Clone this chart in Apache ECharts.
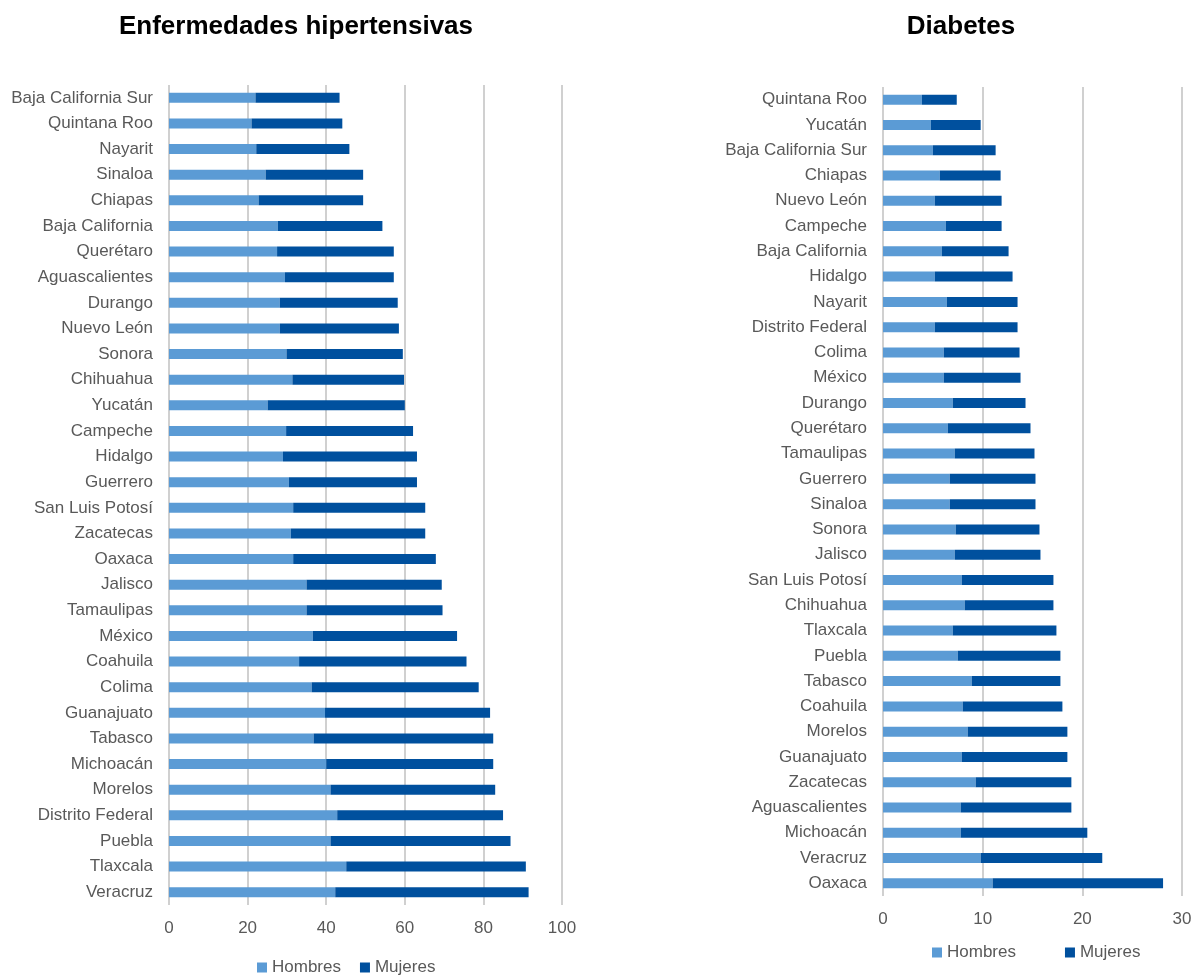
<!DOCTYPE html>
<html>
<head>
<meta charset="utf-8">
<script src="https://cdn.jsdelivr.net/npm/echarts@6/dist/echarts.min.js"></script>
<style>
html,body{margin:0;padding:0;background:#fff;}
#chart{width:1202px;height:975px;}
</style>
</head>
<body>
<div id="chart"></div>
<script>
// Enfermedades hipertensivas
const hypCategories = ["Baja California Sur","Quintana Roo","Nayarit","Sinaloa","Chiapas","Baja California","Querétaro","Aguascalientes","Durango","Nuevo León","Sonora","Chihuahua","Yucatán","Campeche","Hidalgo","Guerrero","San Luis Potosí","Zacatecas","Oaxaca","Jalisco","Tamaulipas","México","Coahuila","Colima","Guanajuato","Tabasco","Michoacán","Morelos","Distrito Federal","Puebla","Tlaxcala","Veracruz"];
const hypHombres = [22.0,21.0,22.2,24.6,22.8,27.7,27.5,29.5,28.2,28.2,29.9,31.4,25.1,29.8,29.0,30.5,31.6,31.0,31.6,35.0,35.0,36.6,33.1,36.3,39.7,36.8,40.0,41.1,42.8,41.1,45.1,42.3];
const hypMujeres = [21.4,23.1,23.7,24.8,26.6,26.6,29.7,27.7,30.0,30.3,29.6,28.4,34.9,32.3,34.1,32.6,33.6,34.2,36.3,34.4,34.6,36.7,42.6,42.5,42.0,45.7,42.5,41.9,42.2,45.8,45.7,49.2];
const hypTicks = [0,20,40,60,80,100];

// Diabetes
const diaCategories = ["Quintana Roo","Yucatán","Baja California Sur","Chiapas","Nuevo León","Campeche","Baja California","Hidalgo","Nayarit","Distrito Federal","Colima","México","Durango","Querétaro","Tamaulipas","Guerrero","Sinaloa","Sonora","Jalisco","San Luis Potosí","Chihuahua","Tlaxcala","Puebla","Tabasco","Coahuila","Morelos","Guanajuato","Zacatecas","Aguascalientes","Michoacán","Veracruz","Oaxaca"];
const diaHombres = [3.9,4.8,5.0,5.7,5.2,6.3,5.9,5.2,6.4,5.2,6.1,6.1,7.0,6.5,7.2,6.7,6.7,7.3,7.2,7.9,8.2,7.0,7.5,8.9,8.0,8.5,7.9,9.3,7.8,7.8,9.8,11.0];
const diaMujeres = [3.5,5.0,6.3,6.1,6.7,5.6,6.7,7.8,7.1,8.3,7.6,7.7,7.3,8.3,8.0,8.6,8.6,8.4,8.6,9.2,8.9,10.4,10.3,8.9,10.0,10.0,10.6,9.6,11.1,12.7,12.2,17.1];
const diaTicks = [0,10,20,30];

const seriesNames = ["Hombres","Mujeres"];
const colHombres = "#5b9bd5";
const colMujeres = "#00509e";
const FONT = "Liberation Sans";
const txt = "#595959";

const chart = echarts.init(document.getElementById('chart'), null, {renderer:'canvas'});

function xAxisFor(gi, ticks){
  return {
    type:'value', gridIndex:gi,
    min:ticks[0], max:ticks[ticks.length-1], interval:ticks[1]-ticks[0],
    axisLine:{show:false}, axisTick:{show:false},
    axisLabel:{color:txt, fontFamily:FONT, fontSize:17, margin:15},
    splitLine:{show:true, lineStyle:{color:'#c0c0c0', width:1.5}}
  };
}
function yAxisFor(gi, cats){
  return {
    type:'category', gridIndex:gi, data:cats, inverse:true,
    axisLine:{show:false}, axisTick:{show:false},
    axisLabel:{color:txt, fontFamily:FONT, fontSize:17, margin:16}
  };
}

chart.setOption({
  animation:false,
  backgroundColor:'#fff',
  title:[
    {text:'Enfermedades hipertensivas', left:291, top:9, textAlign:'center',
     textStyle:{fontFamily:FONT, fontWeight:'bold', fontSize:26, color:'#000'}},
    {text:'Diabetes', left:956, top:9, textAlign:'center',
     textStyle:{fontFamily:FONT, fontWeight:'bold', fontSize:26, color:'#000'}}
  ],
  legend:[
    {data:seriesNames, left:252, top:954, icon:'rect', itemWidth:10, itemHeight:10, itemGap:19,
     textStyle:{color:txt, fontFamily:FONT, fontSize:17}},
    {data:seriesNames, left:927, top:939, icon:'rect', itemWidth:10, itemHeight:10, itemGap:49,
     textStyle:{color:txt, fontFamily:FONT, fontSize:17}}
  ],
  grid:[
    {left:169, top:85, width:393, height:820},
    {left:883, top:87, width:299, height:809}
  ],
  xAxis:[xAxisFor(0,hypTicks), xAxisFor(1,diaTicks)],
  yAxis:[yAxisFor(0,hypCategories), yAxisFor(1,diaCategories)],
  series:[
    {name:seriesNames[0], type:'bar', stack:'h', xAxisIndex:0, yAxisIndex:0, data:hypHombres, barWidth:10, itemStyle:{color:colHombres}},
    {name:seriesNames[1], type:'bar', stack:'h', xAxisIndex:0, yAxisIndex:0, data:hypMujeres, barWidth:10, itemStyle:{color:colMujeres}},
    {name:seriesNames[0], type:'bar', stack:'d', xAxisIndex:1, yAxisIndex:1, data:diaHombres, barWidth:10, itemStyle:{color:colHombres}},
    {name:seriesNames[1], type:'bar', stack:'d', xAxisIndex:1, yAxisIndex:1, data:diaMujeres, barWidth:10, itemStyle:{color:colMujeres}}
  ]
});
</script>
</body>
</html>
